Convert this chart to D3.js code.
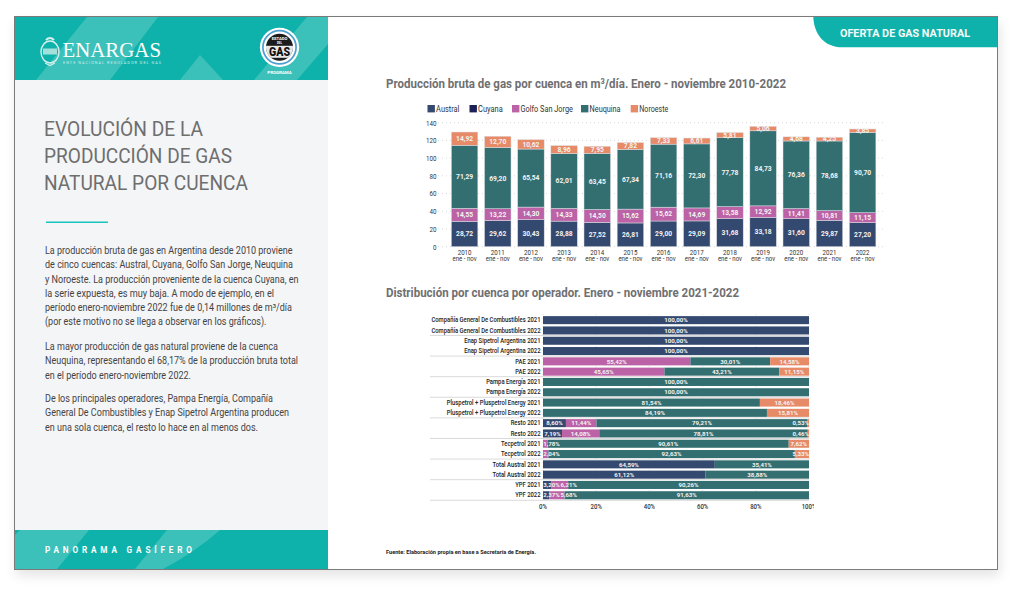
<!DOCTYPE html>
<html lang="es"><head><meta charset="utf-8">
<script src="https://d3js.org/d3.v7.min.js"></script>
<style>
html,body{margin:0;padding:0;background:#fff;width:1024px;height:598px;overflow:hidden}
svg{display:block;font-family:Roboto,sans-serif}
</style></head><body>
<svg id="c" width="1024" height="598" viewBox="0 0 1024 598"></svg>
<script>
// ---- data: top chart
const years = ["2010","2011","2012","2013","2014","2015","2016","2017","2018","2019","2020","2021","2022"];
const basins = ["Austral","Cuyana","Golfo San Jorge","Neuquina","Noroeste"];
const basinColors = ["#34496f","#1a2157","#bc62a6","#336f71","#e68a68"];
const austral = [28.72,29.62,30.43,28.88,27.52,26.81,29.00,29.09,31.68,33.18,31.60,29.87,27.20];
const golfo = [14.55,13.22,14.30,14.33,14.50,15.62,15.62,14.69,13.58,12.92,11.41,10.81,11.15];
const neuquina = [71.29,69.20,65.54,62.01,63.45,67.34,71.16,72.30,77.78,84.73,76.36,78.68,90.70];
const noroeste = [14.92,12.70,10.62,8.96,7.95,7.82,7.33,6.61,5.81,5.06,4.68,4.25,3.85];
const yTicks = [0,20,40,60,80,100,120,140];
// ---- data: bottom chart
const operators = ["Compañía General De Combustibles 2021","Compañía General De Combustibles 2022","Enap Sipetrol Argentina 2021","Enap Sipetrol Argentina 2022","PAE 2021","PAE 2022","Pampa Energía 2021","Pampa Energía 2022","Pluspetrol + Pluspetrol Energy 2021","Pluspetrol + Pluspetrol Energy 2022","Resto 2021","Resto 2022","Tecpetrol 2021","Tecpetrol 2022","Total Austral 2021","Total Austral 2022","YPF 2021","YPF 2022"];
const opAustral = [100,100,100,100,0,0,0,0,0,0,8.60,7.19,0,0,64.59,61.12,3.20,2.37];
const opGolfo = [0,0,0,0,55.42,45.65,0,0,0,0,11.44,14.08,1.78,2.04,0,0,6.21,5.68];
const opNeuquina = [0,0,0,0,30.01,43.21,100,100,81.54,84.19,79.21,78.81,90.61,92.63,35.41,38.88,90.26,91.63];
const opNoroeste = [0,0,0,0,14.58,11.15,0,0,18.46,15.81,0.53,0.46,7.62,5.33,0,0,0,0];
const xTicks = [0,20,40,60,80,100];
const introParas = [
 ["La producción bruta de gas en Argentina desde 2010 proviene","de cinco cuencas: Austral, Cuyana, Golfo San Jorge, Neuquina","y Noroeste. La producción proveniente de la cuenca Cuyana, en","la serie expuesta, es muy baja. A modo de ejemplo, en el","período enero-noviembre 2022 fue de 0,14 millones de m³/día","(por este motivo no se llega a observar en los gráficos)."],
 ["La mayor producción de gas natural proviene de la cuenca","Neuquina, representando el 68,17% de la producción bruta total","en el período enero-noviembre 2022."],
 ["De los principales operadores, Pampa Energía, Compañía","General De Combustibles y Enap Sipetrol Argentina producen","en una sola cuenca, el resto lo hace en al menos dos."]];
const titleLines = ["EVOLUCIÓN DE LA","PRODUCCIÓN DE GAS","NATURAL POR CUENCA"];

const svg = d3.select("#c");
const fmt = v => v.toFixed(2).replace(".",",");
const TEAL="#0fb2aa";
// condensed text helper: Roboto narrowed horizontally about its anchor
const cond = (g,x,y,s,str,size,anchor,fill,weight) => g.append("text")
  .attr("transform",`translate(${x},${y}) scale(${s},1)`).attr("text-anchor",anchor)
  .attr("font-size",size).attr("fill",fill).attr("font-weight",weight||400).text(str);

const defs = svg.append("defs");
const f = defs.append("filter").attr("id","sh").attr("x","-5%").attr("y","-5%").attr("width","110%").attr("height","110%");
f.append("feGaussianBlur").attr("stdDeviation",6);
defs.append("clipPath").attr("id","ct").append("rect").attr("x",15).attr("y",17).attr("width",313).attr("height",63);
defs.append("clipPath").attr("id","cb").append("rect").attr("x",15).attr("y",530).attr("width",313).attr("height",39);
defs.append("clipPath").attr("id","lc").append("circle").attr("r",13.5);

// page
svg.append("rect").attr("x",16).attr("y",22).attr("width",984).attr("height",554).attr("fill","#000").attr("opacity",.10).attr("filter","url(#sh)");
svg.append("rect").attr("x",14.5).attr("y",16.5).attr("width",983).attr("height",553).attr("fill","#fff").attr("stroke","#7a7a7a");
svg.append("rect").attr("x",15).attr("y",80).attr("width",313).attr("height",450).attr("fill","#f4f5f7");
svg.append("rect").attr("x",15).attr("y",17).attr("width",313).attr("height",63).attr("fill",TEAL);
svg.append("rect").attr("x",15).attr("y",530).attr("width",313).attr("height",39).attr("fill",TEAL);
// decorative stripes
const gt = svg.append("g").attr("clip-path","url(#ct)").attr("fill","#fff").attr("opacity",.19);
gt.append("path").attr("d","M36 80 L87 17 L158 17 L110 80Z");
gt.append("path").attr("d","M180 80 L200 55 L223 80Z");
gt.append("path").attr("d","M254 80 L307 17 L328 17 L328 44 L297 80Z");
const gb = svg.append("g").attr("clip-path","url(#cb)").attr("fill","#fff").attr("opacity",.19);
gb.append("path").attr("d","M20 530 L89 530 L57 569 L15 569 L15 535Z");
gb.append("path").attr("d","M167 530 L220 530 Q195 552 163 569 L135 569Z");

// emblem
const em = svg.append("g").attr("transform","translate(50,52)").attr("fill","none").attr("stroke","#d5efec");
em.append("ellipse").attr("rx",9).attr("ry",11).attr("stroke-width",1.4);
em.append("rect").attr("x",-7).attr("y",-3.5).attr("width",14).attr("height",6).attr("fill","#d5efec").attr("stroke","none").attr("opacity",.75);
em.append("path").attr("d","M-4 -12 Q0 -16 4 -12").attr("stroke-width",2);
em.append("path").attr("d","M-5 11 L0 13.5 L5 11").attr("stroke-width",1.2);
svg.append("text").attr("x",62.5).attr("y",56.5).attr("font-family","'Liberation Serif',serif").attr("font-size",22).attr("fill","#fff").attr("textLength",98.5).attr("lengthAdjust","spacingAndGlyphs").text("ENARGAS");
svg.append("text").attr("x",63).attr("y",64).attr("font-size",3.8).attr("fill","#cdeeeb").attr("textLength",98).text("ENTE NACIONAL REGULADOR DEL GAS");
// state logo
const lg = svg.append("g").attr("transform","translate(279.5,47.3)");
lg.append("circle").attr("r",19.6).attr("fill","#fff");
lg.append("circle").attr("r",16.6).attr("fill","none").attr("stroke","#4d9fd0").attr("stroke-width",1.7);
lg.append("circle").attr("r",13.5).attr("fill","#1c1c1c");
lg.append("rect").attr("x",-14).attr("y",-1.5).attr("width",28).attr("height",12).attr("fill","#e8e8e8").attr("clip-path","url(#lc)");
lg.append("text").attr("text-anchor","middle").attr("y",-7.4).attr("font-size",4.2).attr("font-weight",700).attr("fill","#fff").text("ESTADO");
lg.append("text").attr("text-anchor","middle").attr("y",-3).attr("font-size",2.8).attr("font-weight",700).attr("fill","#fff").text("DEL");
lg.append("text").attr("text-anchor","middle").attr("y",8.8).attr("font-size",12.5).attr("font-weight",900).attr("fill","#111").attr("textLength",21).attr("lengthAdjust","spacingAndGlyphs").text("GAS");
svg.append("text").attr("x",279.5).attr("y",73.5).attr("text-anchor","middle").attr("font-size",4.4).attr("font-weight",700).attr("fill","#fff").text("PROGRAMA");

// left text
svg.append("g").selectAll("text").data(titleLines).join("text").attr("x",44).attr("y",(d,i)=>135.5+i*27.4)
 .attr("font-size",20).attr("fill","#6e6e6e").attr("textLength",(d,i)=>[159,188,204][i]).attr("lengthAdjust","spacingAndGlyphs").text(d=>d);
svg.append("rect").attr("x",46).attr("y",221.5).attr("width",62).attr("height",1.5).attr("fill","#16c4bb");
const lineW=[[247.5,248,253.5,229,247,221.5],[233,253,146],[228,244,213]];
const paraY=[254,350,402];
introParas.forEach((p,pi)=>{
 svg.append("g").selectAll("text").data(p).join("text").attr("x",45).attr("y",(d,i)=>paraY[pi]+i*14.25)
  .attr("font-size",10.3).attr("fill","#444").attr("textLength",(d,i)=>lineW[pi][i]).attr("lengthAdjust","spacingAndGlyphs").text(d=>d);
});
svg.append("text").attr("x",45).attr("y",552.7).attr("font-size",8.2).attr("font-weight",700).attr("fill","#fff").attr("textLength",147).text("PANORAMA GASÍFERO");

// tab
const tab = d3.path(); tab.moveTo(813.3,17); tab.lineTo(997,17); tab.lineTo(997,47.3); tab.lineTo(842,47.3); tab.bezierCurveTo(825,47.3,814,35,813.3,17); tab.closePath();
svg.append("path").attr("d",tab.toString()).attr("fill",TEAL);
svg.append("text").attr("x",905).attr("y",36.7).attr("text-anchor","middle").attr("font-size",11.7).attr("font-weight",700).attr("fill","#f4fbfa").attr("textLength",130).attr("lengthAdjust","spacingAndGlyphs").text("OFERTA DE GAS NATURAL");

// titles
svg.append("text").attr("x",386).attr("y",88).attr("font-size",13.5).attr("font-weight",700).attr("fill","#6f6f72").attr("textLength",400).attr("lengthAdjust","spacingAndGlyphs").text("Producción bruta de gas por cuenca en m³/día. Enero - noviembre 2010-2022");
svg.append("text").attr("x",386).attr("y",297).attr("font-size",13.5).attr("font-weight",700).attr("fill","#6f6f72").attr("textLength",353).attr("lengthAdjust","spacingAndGlyphs").text("Distribución por cuenca por operador. Enero - noviembre 2021-2022");

// legend
const legX=[427.5,469.5,512,581,630.7];
const legW=[23.3,24.7,52.3,31,29];
const leg = svg.append("g").selectAll("g").data(basins).join("g").attr("transform",(d,i)=>`translate(${legX[i]},105)`);
leg.append("rect").attr("width",7.4).attr("height",7.4).attr("fill",(d,i)=>basinColors[i]);
leg.append("text").attr("x",8.6).attr("y",6.9).attr("font-size",8.4).attr("fill","#333").attr("textLength",(d,i)=>legW[i]).attr("lengthAdjust","spacingAndGlyphs").text(d=>d);

// top chart
const x = d3.scaleBand().domain(years).range([448,879.2]).paddingInner(0.2).paddingOuter(0.1);
const y = d3.scaleLinear().domain([0,140]).range([246.7,122.7]);
const topG = svg.append("g");
topG.append("g").selectAll("line").data(yTicks).join("line").attr("x1",438).attr("x2",886).attr("y1",d=>y(d)).attr("y2",d=>y(d)).attr("stroke","#c9c9c9").attr("stroke-width",.7).attr("stroke-dasharray","1 3");
yTicks.forEach(d=>cond(topG,436.5,y(d)+2.8,.8,d,7.8,"end","#333"));
const topSeries=[[austral,0],[golfo,2],[neuquina,3],[noroeste,4]];
years.forEach((yr,i)=>{
 let base=0;
 topSeries.forEach(([arr,c])=>{
  const v=arr[i];
  topG.append("rect").attr("x",x(yr)).attr("width",x.bandwidth()).attr("y",y(base+v)).attr("height",y(base)-y(base+v)).attr("fill",basinColors[c]).attr("stroke","#dfe1e6").attr("stroke-width",.5);
  topG.append("text").attr("x",x(yr)+x.bandwidth()/2).attr("y",y(base+v/2)+2.4).attr("text-anchor","middle").attr("font-size",6.7).attr("font-weight",700).attr("fill","#f3f3f3").text(fmt(v));
  base+=v;
 });
 const cx=x(yr)+x.bandwidth()/2;
 cond(topG,cx,254.6,.88,yr,7,"middle","#333");
 cond(topG,cx,261.2,.96,"ene - nov",6.3,"middle","#333");
});

// bottom chart
const bx = d3.scaleLinear().domain([0,100]).range([543,809]);
const by = d3.scaleBand().domain(operators).range([315,500.4]).paddingInner(0.22).paddingOuter(0.11);
const botG = svg.append("g");
botG.append("g").selectAll("line").data(xTicks).join("line").attr("x1",d=>bx(d)).attr("x2",d=>bx(d)).attr("y1",314).attr("y2",501).attr("stroke","#ccc").attr("stroke-width",.6).attr("stroke-dasharray","1 3");
botG.append("g").selectAll("line.s").data(operators.filter((d,i)=>i%2==1)).join("line").attr("x1",430).attr("x2",809).attr("y1",d=>by(d)+by.bandwidth()+1).attr("y2",d=>by(d)+by.bandwidth()+1).attr("stroke","#d0d0d0").attr("stroke-width",.8);
operators.forEach(op=>cond(botG,540.5,by(op)+by.bandwidth()/2+2.2,.93,op,6.3,"end","#222",500));
const botSeries=[[opAustral,0],[opGolfo,2],[opNeuquina,3],[opNoroeste,4]];
operators.forEach((op,i)=>{
 // a 100% stacked bar: each row fills the full width
 const total=d3.sum(botSeries,s=>s[0][i]);
 let base=0;
 const marks=[];
 botSeries.forEach(([arr,c])=>{
  const v=arr[i]; if(!v) return;
  const a=base/total*100, b=(base+v)/total*100;
  botG.append("rect").attr("x",bx(a)).attr("width",bx(b)-bx(a)).attr("y",by(op)).attr("height",by.bandwidth()).attr("fill",basinColors[c]);
  marks.push({v,cx:(bx(a)+bx(b))/2});
  base+=v;
 });
 const half=8.3;
 let prevEnd=bx(0)+.3;
 marks.forEach(m=>{
  let cx=Math.max(m.cx,prevEnd+half);
  if(cx+half>bx(100)) cx=bx(100)-half;
  prevEnd=cx+half+.6;
  botG.append("text").attr("x",cx).attr("y",by(op)+by.bandwidth()/2+2.2).attr("text-anchor","middle").attr("font-size",6.1).attr("font-weight",700).attr("fill","#f3f3f3").text(fmt(m.v)+"%");
 });
});
xTicks.forEach(d=>cond(botG,bx(d),508.6,.84,d+"%",7.2,"middle","#333",500));
svg.append("rect").attr("x",814).attr("y",500).attr("width",10).attr("height",14).attr("fill","#fff");
svg.append("text").attr("x",386).attr("y",554).attr("font-size",5.6).attr("font-weight",700).attr("fill","#222").attr("textLength",150).text("Fuente: Elaboración propia en base a Secretaría de Energía.");
</script></body></html>
